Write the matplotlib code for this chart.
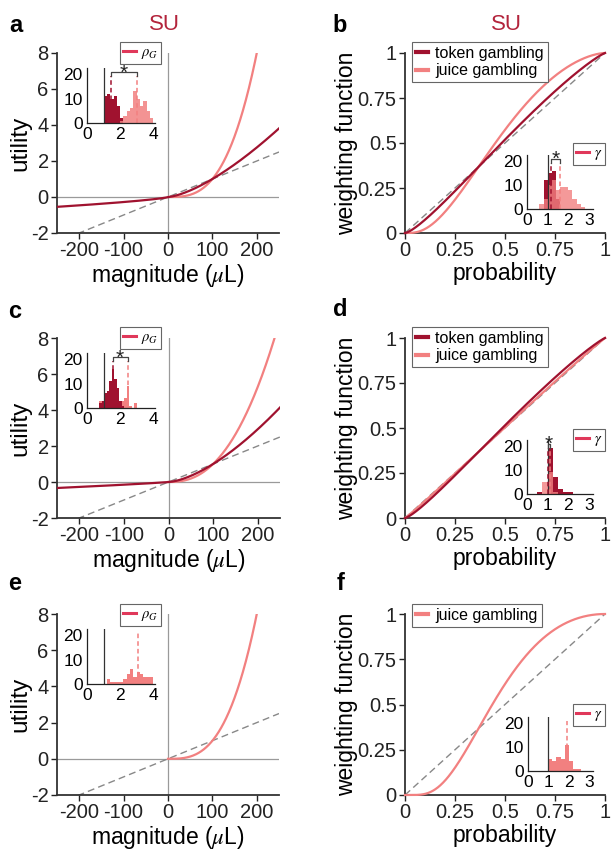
import numpy as np
import matplotlib
matplotlib.use("Agg")
import matplotlib.pyplot as plt
from matplotlib.lines import Line2D

plt.rcParams['font.family'] = ['Liberation Sans', 'DejaVu Sans']
plt.rcParams['mathtext.fontset'] = 'stix'
plt.rcParams['axes.unicode_minus'] = False

# ---------------- data ----------------
# utility-function parameters (u = (x/100)^rho for gains, -k*(|x|/100)^rho_l for losses)
rho_token = {'a': 1.46, 'c': 1.55}
loss_scale_token = {'a': 0.28, 'c': 0.15}
loss_rho_token = {'a': 0.73, 'c': 0.87}
rho_juice = {'a': 3.0, 'c': 2.4, 'e': 3.0}
# probability weighting (Prelec) parameters
gamma_token = {'b': 1.15, 'd': 1.12}
gamma_juice = {'b': 1.60, 'd': 1.03, 'f': 1.95}

# inset histograms
edges_a = [1.0, 1.2, 1.4, 1.6, 1.8, 2.0, 2.2, 2.4, 2.6, 2.8, 3.0, 3.2, 3.4, 3.6, 3.8, 4.0]
tok_a = [11, 12, 10, 11, 7, 2, 0, 0, 0, 0, 0, 0, 0, 0, 0]
jui_a = [0, 0, 0, 0, 0, 1, 3, 5, 6, 13, 10, 7, 9, 5, 2]
med_a = (1.43, 2.99)

edges_c = [0.75, 0.9, 1.05, 1.2, 1.35, 1.5, 1.65, 1.8, 1.95, 2.1, 2.25, 2.4, 2.55, 2.7, 2.85, 3.0]
tok_c = [2, 3, 6, 7, 11, 16, 12, 8, 3, 1, 0, 0, 0, 0, 0]
jui_c = [3, 1, 2, 3, 4, 3, 4, 3, 2, 3, 4, 9, 1, 0, 2]
med_c = (1.55, 2.45)

edges_e = [1.0, 1.2, 1.4, 1.6, 1.8, 2.0, 2.2, 2.4, 2.6, 2.8, 3.0, 3.2, 3.4, 3.6, 3.8, 4.0]
jui_e = [0, 2, 1, 1, 1, 1, 2, 4, 6, 3, 5, 4, 3, 3, 3]
med_e = 3.05

edges_b = [0.6, 0.8, 1.0, 1.2, 1.4, 1.6, 1.8, 2.0, 2.2, 2.4, 2.6, 2.8]
tok_b = [0, 12, 15, 16, 4, 0, 0, 0, 0, 0, 0]
jui_b = [2, 4, 10, 12, 8, 9, 9, 8, 4, 2, 1]
med_b = (1.18, 1.62)

edges_d = [0.5, 0.75, 1.0, 1.25, 1.5, 1.75, 2.0, 2.25, 2.5]
tok_d = [1, 0, 19, 7, 2, 1, 1, 0]
jui_d = [0, 5, 9, 1, 0, 0, 0, 0]
med_d = (1.02, 1.1)

edges_f = [1.0, 1.2, 1.4, 1.6, 1.8, 2.0, 2.2, 2.4, 2.6]
jui_f = [5, 4, 6, 5, 11, 4, 1, 1]
med_f = 1.94

util_xticks = [-200, -100, 0, 100, 200]
util_yticks = [-2, 0, 2, 4, 6, 8]
prob_ticks = [0, 0.25, 0.5, 0.75, 1]
prob_ticklabels = ['0', '0.25', '0.5', '0.75', '1']

# ---------------- style ----------------
DARK = '#a0122f'
LIGHT = '#f28080'
LEG_RED = '#e0385a'
SU_COL = '#b3243c'
GRAY = '#9a9a9a'
W, H = 612, 852
TICK_FS = 14.5
LABEL_FS = 16.5
INSET_FS = 12.5

fig = plt.figure(figsize=(W / 100, H / 100), dpi=100)


def box(l, t, r, b):
    return [l / W, 1 - b / H, (r - l) / W, (b - t) / H]


def style_main(ax):
    for s in ['top', 'right']:
        ax.spines[s].set_visible(False)
    for s in ['left', 'bottom']:
        ax.spines[s].set_color('#333333')
        ax.spines[s].set_linewidth(1.3)
    ax.tick_params(direction='out', length=4, width=1, labelsize=TICK_FS, colors='#222222', pad=2)


def style_inset(ax, xt, xmax):
    ax.set_xlim(0, xmax)
    ax.set_ylim(0, 22.5)
    ax.set_xticks(xt)
    ax.set_yticks([0, 10, 20])
    for s in ['top', 'right']:
        ax.spines[s].set_visible(False)
    for s in ['left', 'bottom']:
        ax.spines[s].set_color('#222222')
        ax.spines[s].set_linewidth(0.9)
    ax.tick_params(direction='in', length=0, width=0.8, labelsize=INSET_FS)
    ax.tick_params(axis='x', pad=3)
    ax.tick_params(axis='y', pad=3)
    ax.patch.set_alpha(0)


def small_legend(ax, label, l, t):
    h = [Line2D([], [], color=LEG_RED, lw=2.2)]
    lg = ax.legend(h, [label], loc='upper left', bbox_to_anchor=(l / W, 1 - t / H),
                   bbox_transform=fig.transFigure, borderaxespad=0, fontsize=10.5,
                   handlelength=0.9, handletextpad=0.35, borderpad=0.2,
                   fancybox=False, framealpha=1, edgecolor='#666666')
    lg.get_frame().set_linewidth(0.8)


def big_legend(ax, labels, colors, l, t):
    h = [Line2D([], [], color=c, lw=3) for c in colors]
    lg = ax.legend(h, labels, loc='upper left', bbox_to_anchor=(l / W, 1 - t / H),
                   bbox_transform=fig.transFigure, borderaxespad=0, fontsize=11.5,
                   handlelength=0.75, handletextpad=0.45, borderpad=0.25, labelspacing=0.15,
                   fancybox=False, framealpha=1, edgecolor='#666666')
    lg.get_frame().set_linewidth(0.8)


def bracket(ax, x1, x2, y=20.8):
    ax.plot([x1, x1, x2, x2], [y - 1.5, y, y, y - 1.5], color='#444444', lw=0.9, clip_on=False)
    ax.text((x1 + x2) / 2, y - 0.3, '*', ha='center', va='center', fontsize=15, color='#222222')


def hist(ax, edges, counts, color, alpha=1.0):
    e = np.array(edges)
    ax.bar(e[:-1], counts, width=np.diff(e), align='edge', color=color, alpha=alpha,
           edgecolor='none', linewidth=0)


def utility_panel(pos, key, has_token):
    ax = fig.add_axes(box(*pos))
    style_main(ax)
    ax.set_xlim(-250, 250)
    ax.set_ylim(-2, 8)
    ax.axhline(0, color=GRAY, lw=0.9, zorder=1)
    ax.axvline(0, color=GRAY, lw=0.9, zorder=1)
    xl = np.linspace(-250, 250, 3)
    ax.plot(xl, xl / 100, color='#888888', lw=1.0, dashes=(5, 3), zorder=2)
    xg = np.linspace(0, 250, 400)
    if has_token:
        xn = np.linspace(-250, 0, 200)
        ut = np.concatenate([-loss_scale_token[key] * (-xn / 100) ** loss_rho_token[key],
                             (xg / 100) ** rho_token[key]])
        ax.plot(np.concatenate([xn, xg]), ut, color=DARK, lw=1.6, zorder=4)
    ax.plot(xg, (xg / 100) ** rho_juice[key], color=LIGHT, lw=1.6, zorder=3)
    ax.set_xticks(util_xticks)
    ax.set_yticks(util_yticks)
    ax.set_ylabel('utility', fontsize=LABEL_FS + 1, labelpad=0)
    ax.set_xlabel(r'magnitude ($\mu$L)', fontsize=LABEL_FS, labelpad=1)
    return ax


def weight_panel(pos, key, has_token):
    ax = fig.add_axes(box(*pos))
    style_main(ax)
    ax.set_xlim(0, 1)
    ax.set_ylim(0, 1)
    ax.plot([0, 1], [0, 1], color='#888888', lw=1.0, dashes=(5, 3), zorder=2)
    p = np.linspace(1e-9, 1, 500)
    if has_token:
        ax.plot(p, np.exp(-(-np.log(p)) ** gamma_token[key]), color=DARK, lw=1.6, zorder=4, clip_on=False)
    ax.plot(p, np.exp(-(-np.log(p)) ** gamma_juice[key]), color=LIGHT, lw=1.6, zorder=3, clip_on=False)
    ax.set_xticks(prob_ticks)
    ax.set_xticklabels(prob_ticklabels)
    ax.set_yticks(prob_ticks)
    ax.set_yticklabels(prob_ticklabels)
    ax.set_ylabel('weighting function', fontsize=LABEL_FS, labelpad=0)
    ax.set_xlabel('probability', fontsize=LABEL_FS, labelpad=1)
    return ax


# ---------- panel a ----------
ax = utility_panel((57, 53, 279, 233), 'a', True)
small_legend(ax, r'$\rho_G$', 120, 42)
ins = fig.add_axes(box(87, 68, 155, 123))
style_inset(ins, [0, 2, 4], 4.1)
hist(ins, edges_a, tok_a, DARK)
hist(ins, edges_a, jui_a, LIGHT, 0.85)
ins.plot([1, 1], [0, 22.5], color='#333333', lw=0.9)
ins.plot([med_a[0]] * 2, [0, 19.3], color=DARK, lw=1.1, dashes=(3, 2))
ins.plot([med_a[1]] * 2, [0, 19.3], color=LIGHT, lw=1.1, dashes=(3, 2))
bracket(ins, *med_a)

# ---------- panel b ----------
ax = weight_panel((405, 53, 605, 233), 'b', True)
big_legend(ax, ['token gambling', 'juice gambling'], [DARK, LIGHT], 412, 42)
ins = fig.add_axes(box(527, 155, 593, 209))
style_inset(ins, [0, 1, 2, 3], 3.2)
hist(ins, edges_b, tok_b, DARK)
hist(ins, edges_b, jui_b, LIGHT, 0.8)
ins.plot([1, 1], [0, 22.5], color='#333333', lw=0.9)
ins.plot([med_b[0]] * 2, [0, 19.3], color=DARK, lw=1.1, dashes=(3, 2))
ins.plot([med_b[1]] * 2, [0, 19.3], color=LIGHT, lw=1.1, dashes=(3, 2))
bracket(ins, *med_b)
small_legend(ins, r'$\gamma$', 573, 143)

# ---------- panel c ----------
ax = utility_panel((57, 338, 280, 518), 'c', True)
small_legend(ax, r'$\rho_G$', 120, 327)
ins = fig.add_axes(box(87, 353, 155, 408))
style_inset(ins, [0, 2, 4], 4.1)
hist(ins, edges_c, jui_c, LIGHT)
hist(ins, edges_c, tok_c, DARK)
ins.plot([1, 1], [0, 22.5], color='#333333', lw=0.9)
ins.plot([med_c[0]] * 2, [0, 19.3], color=DARK, lw=1.1, dashes=(3, 2))
ins.plot([med_c[1]] * 2, [0, 19.3], color=LIGHT, lw=1.1, dashes=(3, 2))
bracket(ins, *med_c)

# ---------- panel d ----------
ax = weight_panel((405, 338, 605, 518), 'd', True)
big_legend(ax, ['token gambling', 'juice gambling'], [DARK, LIGHT], 412, 327)
ins = fig.add_axes(box(527, 440, 593, 494))
style_inset(ins, [0, 1, 2, 3], 3.2)
hist(ins, edges_d, tok_d, DARK)
hist(ins, edges_d, jui_d, LIGHT, 0.8)
ins.plot([1, 1], [0, 22.5], color='#333333', lw=0.9)
ins.plot([med_d[0]] * 2, [0, 19.3], color=DARK, lw=1.1, dashes=(3, 2))
ins.plot([med_d[1]] * 2, [0, 19.3], color=LIGHT, lw=1.1, dashes=(3, 2))
bracket(ins, *med_d)
small_legend(ins, r'$\gamma$', 573, 429)

# ---------- panel e ----------
ax = utility_panel((57, 614, 279, 795), 'e', False)
small_legend(ax, r'$\rho_G$', 120, 604)
ins = fig.add_axes(box(87, 629, 155, 684))
style_inset(ins, [0, 2, 4], 4.1)
hist(ins, edges_e, jui_e, LIGHT)
ins.plot([1, 1], [0, 22.5], color='#333333', lw=0.9)
ins.plot([med_e] * 2, [0, 21], color=LIGHT, lw=1.1, dashes=(3, 2))

# ---------- panel f ----------
ax = weight_panel((405, 614, 605, 795), 'f', False)
big_legend(ax, ['juice gambling'], [LIGHT], 412, 604)
ins = fig.add_axes(box(528, 717, 593, 771))
style_inset(ins, [0, 1, 2, 3], 3.2)
hist(ins, edges_f, jui_f, LIGHT)
ins.plot([1, 1], [0, 22.5], color='#333333', lw=0.9)
ins.plot([med_f] * 2, [0, 21], color=LIGHT, lw=1.1, dashes=(3, 2))
small_legend(ins, r'$\gamma$', 573, 704)

# ---------- panel letters and titles ----------
for letter, (x, y) in {'a': (16, 25), 'b': (340, 25), 'c': (15, 311), 'd': (340, 310),
                       'e': (15, 583), 'f': (341, 583)}.items():
    fig.text(x / W, 1 - y / H, letter, fontsize=17, fontweight='bold', ha='center', va='center')
fig.text(164 / W, 1 - 25 / H, 'SU', fontsize=16, color=SU_COL, ha='center', va='center')
fig.text(506 / W, 1 - 25 / H, 'SU', fontsize=16, color=SU_COL, ha='center', va='center')

fig.savefig('out.png', dpi=100)
